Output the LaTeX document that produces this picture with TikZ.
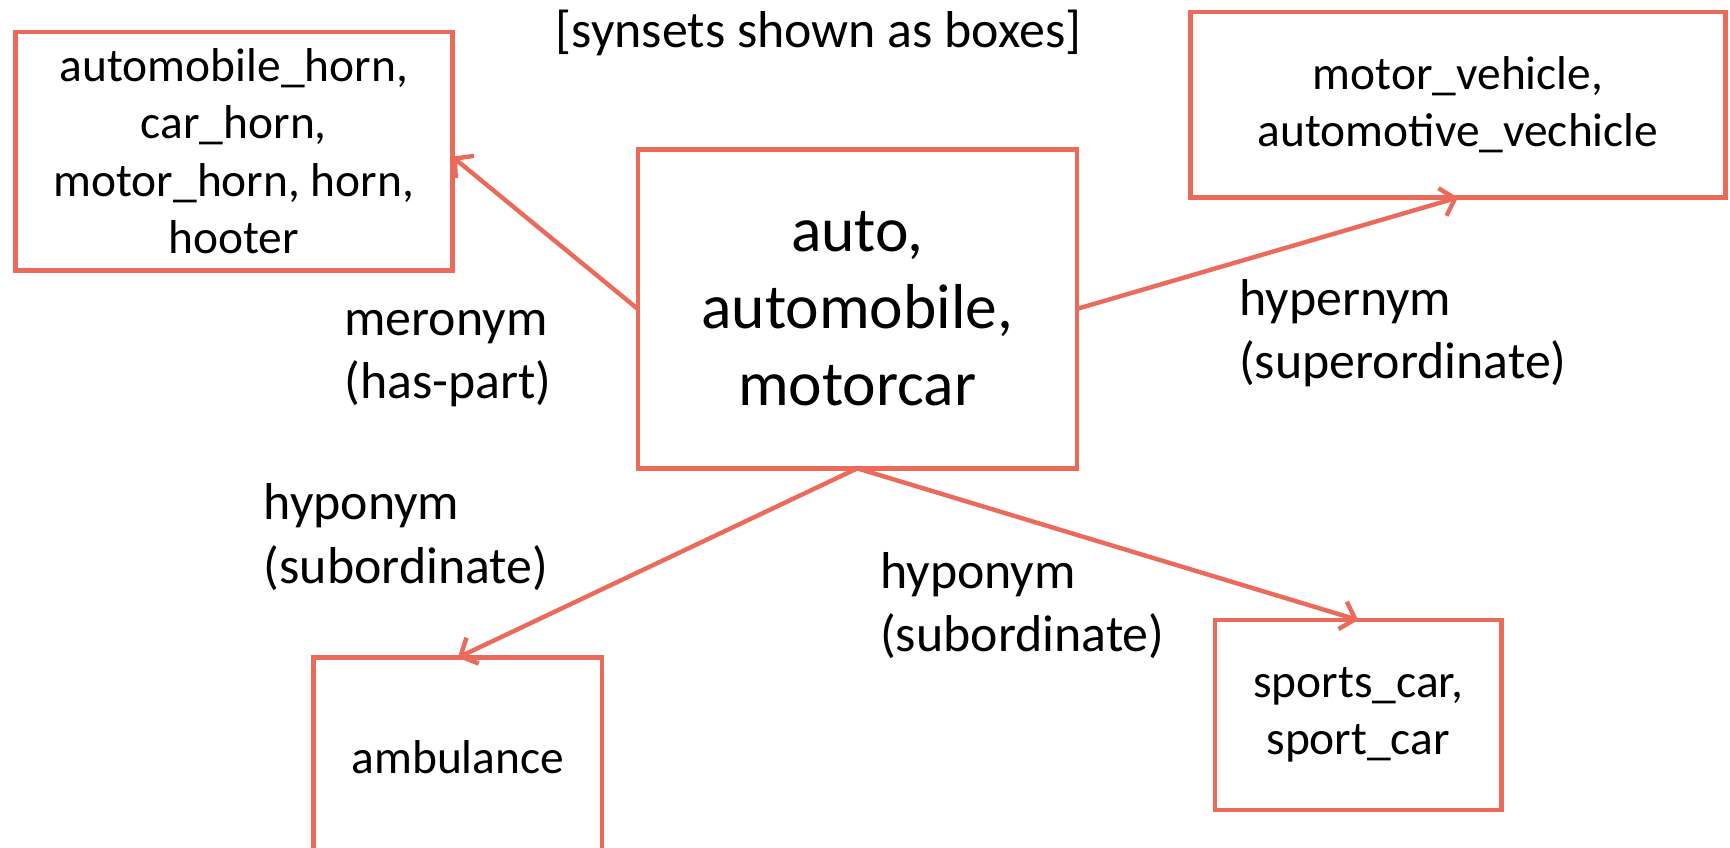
\documentclass[tikz,border=0pt]{standalone}
\usepackage{fontspec}
\setmainfont{Carlito}
\usetikzlibrary{arrows.meta}
\definecolor{coral}{RGB}{235,106,90}
\begin{document}
\begin{tikzpicture}[x=1pt,y=-1pt,
  synset/.style={draw=coral, line width=4pt, rectangle, inner sep=0pt, outer sep=0pt, align=center, text=black},
  smalltext/.style={font=\fontsize{43}{52}\selectfont},
  bigtext/.style={font=\fontsize{57.5}{70}\selectfont},
  rel/.style={align=left, inner sep=0pt, anchor=base west, font=\fontsize{47}{57.5}\selectfont},
  link/.style={draw=coral, line width=4pt, -{Straight Barb[length=12pt,width=26pt]}}
]
\useasboundingbox (0,0) rectangle (1568,768);
\node[synset, smalltext, minimum width=396pt, minimum height=216pt] (horn) at (212,137) {automobile\_horn,\\car\_horn,\\motor\_horn, horn,\\hooter};
\node[synset, bigtext, minimum width=398pt, minimum height=289pt] (main) at (777,280) {auto,\\automobile,\\motorcar};
\node[synset, smalltext, minimum width=485pt, minimum height=168pt] (motor) at (1321.5,95) {motor\_vehicle,\\automotive\_vechicle};
\node[synset, smalltext, minimum width=261.5pt, minimum height=180pt] (amb) at (415,686) {ambulance};
\node[synset, smalltext, minimum width=260pt, minimum height=172pt] (sports) at (1231,648) {sports\_car,\\sport\_car};
\node[font=\fontsize{47}{57}\selectfont, anchor=base, inner sep=0pt] (title) at (742,43) {[synsets shown as boxes]};
\node[rel] (mero) at (312,361.5) {meronym\\(has-part)};
\node[rel] (hyper) at (1123,343) {hypernym\\(superordinate)};
\node[rel] (hypoL) at (239,528.5) {hyponym\\(subordinate)};
\node[rel] (hypoR) at (797.6,590.5) {hyponym\\(subordinate)};
\draw[link] (main.west) -- ([yshift=-5pt]horn.east);
\draw[link] (main.east) -- (motor.south);
\draw[link] (main.south) -- (amb.north);
\draw[link] (main.south) -- (sports.north);
\end{tikzpicture}
\end{document}
